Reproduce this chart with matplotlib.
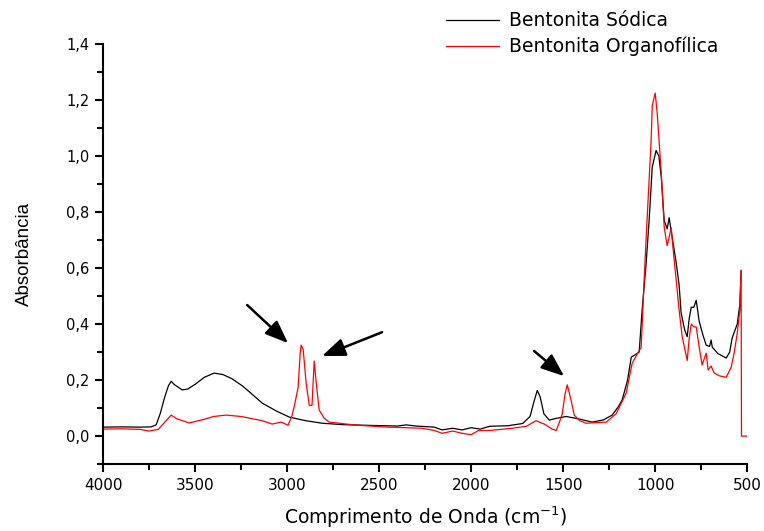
import matplotlib
matplotlib.use("Agg")
import matplotlib.pyplot as plt
from matplotlib.ticker import MultipleLocator, FuncFormatter

plt.rcParams['font.family'] = ['Liberation Sans', 'DejaVu Sans']
wide = 'DejaVu Sans'  # the original text is letter-spaced, a wider face gets closer

# Bentonita Sodica (black)
wn_sodica = [4000, 3900, 3800, 3740, 3712, 3690, 3665, 3645, 3630, 3615, 3600, 3571,
             3540, 3500, 3450, 3397, 3350, 3300, 3245, 3200, 3136, 3060, 2989, 2900,
             2810, 2700, 2538, 2400, 2353, 2300, 2200, 2158, 2100, 2050, 2000, 1950,
             1900, 1800, 1720, 1680, 1660, 1641, 1625, 1605, 1576, 1540, 1484, 1420,
             1342, 1280, 1234, 1200, 1179, 1150, 1130, 1110, 1087, 1071, 1049, 1033,
             1016, 995, 980, 967, 951, 935, 924, 910, 886, 870, 859, 840, 826, 815,
             804, 790, 777, 761, 740, 723, 705, 696, 690, 660, 614, 595, 582, 554,
             540, 533]
abs_sodica = [0.032, 0.033, 0.032, 0.033, 0.040, 0.080, 0.140, 0.180, 0.196, 0.185, 0.178, 0.165,
              0.168, 0.185, 0.210, 0.225, 0.220, 0.205, 0.180, 0.155, 0.118, 0.090, 0.068, 0.055,
              0.046, 0.041, 0.038, 0.036, 0.040, 0.036, 0.032, 0.022, 0.028, 0.022, 0.030, 0.025,
              0.035, 0.037, 0.045, 0.070, 0.120, 0.163, 0.140, 0.080, 0.057, 0.063, 0.070, 0.062,
              0.050, 0.058, 0.075, 0.105, 0.130, 0.200, 0.282, 0.290, 0.300, 0.450, 0.618, 0.770,
              0.960, 1.020, 1.000, 0.925, 0.770, 0.740, 0.780, 0.720, 0.620, 0.540, 0.440, 0.380, 0.355, 0.420,
              0.460, 0.460, 0.485, 0.410, 0.360, 0.325, 0.320, 0.343, 0.318, 0.295, 0.279, 0.300, 0.350, 0.400,
              0.470, 0.590]

# Bentonita Organofilica (red)
wn_organo = [4000, 3900, 3800, 3750, 3700, 3665, 3630, 3600, 3533, 3450, 3400, 3332,
             3250, 3136, 3082, 3033, 2995, 2975, 2962, 2940, 2930, 2924, 2913, 2897,
             2880, 2865, 2853, 2842, 2826, 2800, 2772, 2625, 2450, 2266, 2200, 2158,
             2100, 2050, 2000, 1960, 1900, 1777, 1700, 1647, 1600, 1560, 1538, 1520,
             1505, 1490, 1478, 1467, 1457, 1440, 1410, 1375, 1266, 1212, 1158, 1125,
             1100, 1076, 1060, 1049, 1033, 1022, 1016, 1000, 989, 967, 951, 935, 913,
             900, 886, 870, 853, 826, 815, 804, 790, 777, 761, 745, 723, 712, 696,
             679, 650, 614, 587, 570, 554, 540, 533, 531, 500]
abs_organo = [0.025, 0.026, 0.024, 0.018, 0.024, 0.050, 0.075, 0.062, 0.047, 0.060, 0.070, 0.075,
              0.070, 0.055, 0.043, 0.050, 0.039, 0.070, 0.104, 0.175, 0.290, 0.325, 0.310, 0.190,
              0.110, 0.110, 0.268, 0.190, 0.093, 0.065, 0.050, 0.039, 0.032, 0.028, 0.020, 0.010,
              0.018, 0.010, 0.005, 0.020, 0.020, 0.028, 0.035, 0.055, 0.042, 0.025, 0.020, 0.050,
              0.080, 0.150, 0.183, 0.155, 0.128, 0.075, 0.055, 0.046, 0.050, 0.080, 0.153, 0.260,
              0.290, 0.318, 0.557, 0.710, 0.914, 1.057, 1.180, 1.225, 1.153, 0.940, 0.747, 0.680, 0.743,
              0.650, 0.557, 0.450, 0.354, 0.270, 0.350, 0.400, 0.390, 0.390, 0.318, 0.254, 0.296, 0.236, 0.250,
              0.225, 0.215, 0.210, 0.246, 0.300, 0.368, 0.450, 0.593, 0.0, 0.0]

# arrows (tail -> head)
arrows = [((3217, 0.468), (2995, 0.332)),
          ((2484, 0.371), (2810, 0.286)),
          ((1658, 0.304), (1495, 0.214))]

fig = plt.figure(figsize=(7.64, 5.31), dpi=100)
ax = fig.add_axes([0.135, 0.126, 0.843, 0.791])

ax.plot(wn_sodica, abs_sodica, color='black', lw=0.9, label='Bentonita Sódica')
ax.plot(wn_organo, abs_organo, color='#ff0000', lw=0.9, label='Bentonita Organofílica')

for tail, head in arrows:
    ax.annotate('', xy=head, xytext=tail,
                arrowprops=dict(arrowstyle='-|>,head_length=1.4,head_width=0.55',
                                color='black', lw=1.8, shrinkA=0, shrinkB=0))

ax.set_xlim(4000, 500)
ax.set_ylim(-0.1, 1.4)
ax.spines['top'].set_visible(False)
ax.spines['right'].set_visible(False)
ax.spines['left'].set_linewidth(1.5)
ax.spines['bottom'].set_linewidth(1.5)

ax.xaxis.set_major_locator(MultipleLocator(500))
ax.xaxis.set_minor_locator(MultipleLocator(250))
ax.yaxis.set_major_locator(MultipleLocator(0.2))
ax.yaxis.set_minor_locator(MultipleLocator(0.1))
ax.yaxis.set_major_formatter(FuncFormatter(
    lambda v, p: '' if v < -0.01 else f'{v:.1f}'.replace('.', ',')))
ax.tick_params(which='major', length=6, width=1.5, pad=4)
ax.tick_params(which='minor', length=4, width=1.5)
for lbl in ax.get_xticklabels():
    lbl.set_family(wide)
    lbl.set_fontsize(11)
for lbl in ax.get_yticklabels():
    lbl.set_family(wide)
    lbl.set_fontsize(10.5)

ax.set_xlabel('Comprimento de Onda (cm$^{-1}$)', fontsize=13.5, family=wide, labelpad=8)
ax.set_ylabel('Absorbância', fontsize=13.5, labelpad=24)

leg = ax.legend(loc='upper left', bbox_to_anchor=(446 / 764, 0.979),
                bbox_transform=fig.transFigure, frameon=False,
                prop={'family': wide, 'size': 13.5}, handlelength=2.8,
                handletextpad=0.55, labelspacing=0.36, borderaxespad=0,
                borderpad=0)

fig.savefig('out.png', dpi=100)
